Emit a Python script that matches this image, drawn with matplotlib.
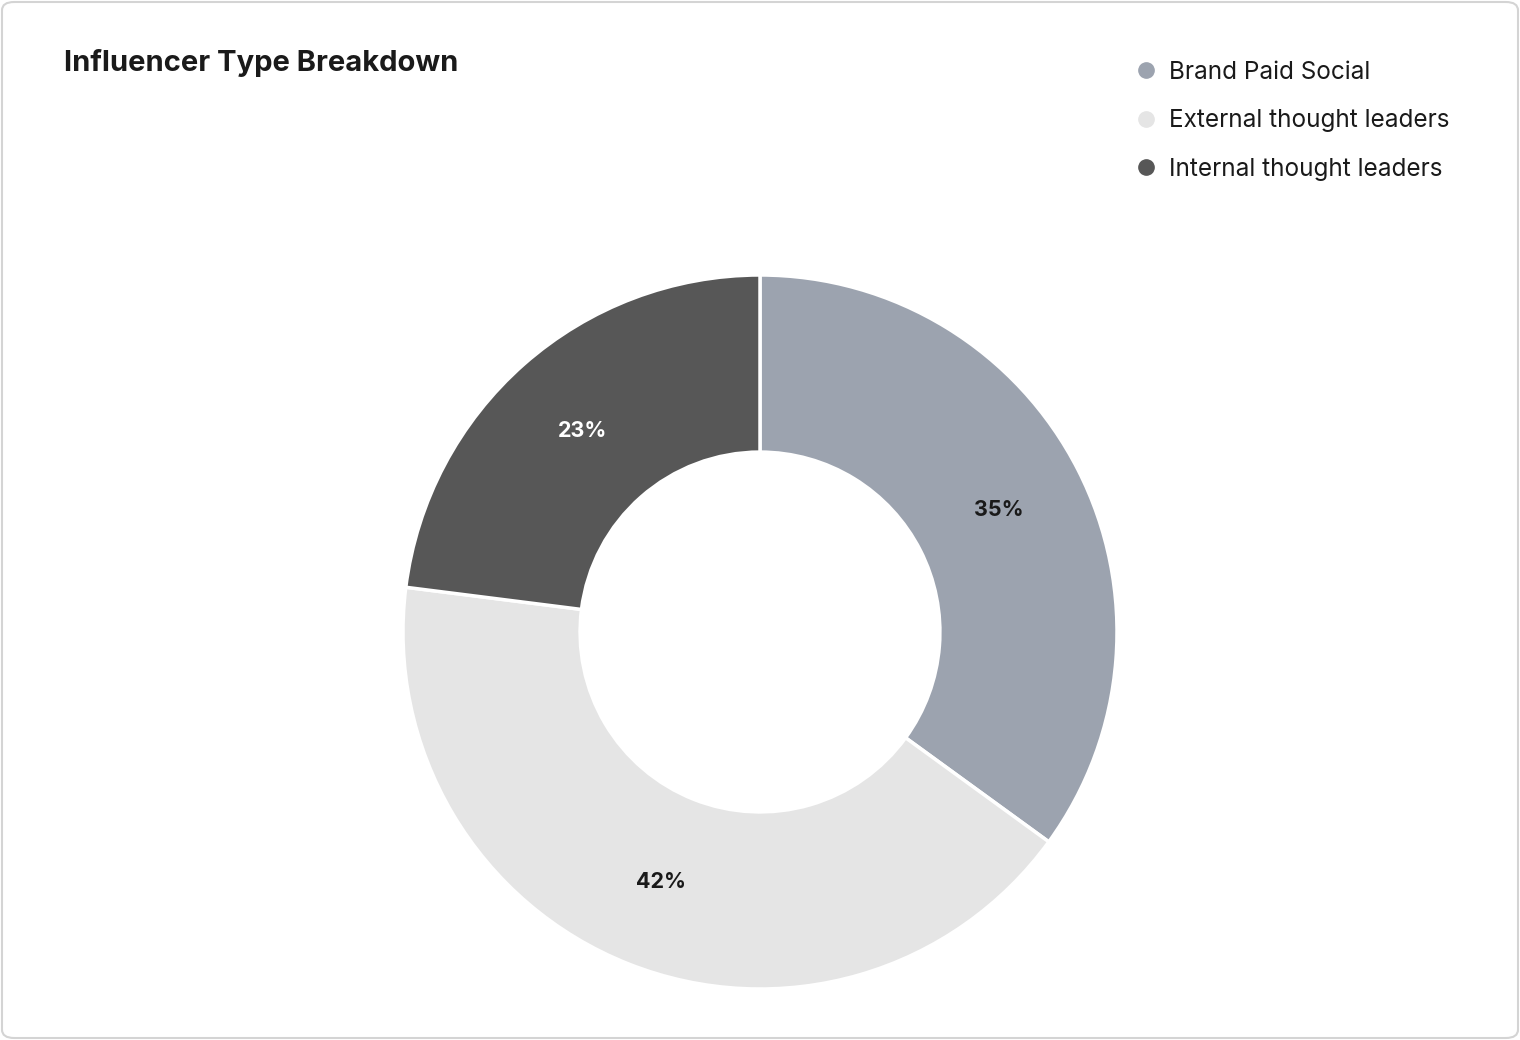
import numpy as np
import matplotlib.pyplot as plt
from matplotlib.patches import FancyBboxPatch
from matplotlib.lines import Line2D

labels = ["Brand Paid Social", "External thought leaders", "Internal thought leaders"]
values = [35, 42, 23]
colors = ["#9ca3af", "#e5e5e5", "#575757"]
text_colors = ["#1a1a1a", "#1a1a1a", "#ffffff"]

plt.rcParams['font.family'] = ['Inter', 'DejaVu Sans']

W, H = 1520, 1040
fig = plt.figure(figsize=(W / 100, H / 100), dpi=100)

# rounded card border, behind everything
card = FancyBboxPatch((2 / W, 2 / H), 1 - 4 / W, 1 - 4 / H,
                      boxstyle="round,pad=0,rounding_size=0.008",
                      transform=fig.transFigure, facecolor="white",
                      edgecolor="#d4d4d4", linewidth=1.5, zorder=-10)
fig.patches.append(card)

fig.text(64 / W, 1 - 63 / H, "Influencer Type Breakdown", fontsize=21,
         fontweight="bold", color="#1a1a1a", va="center", ha="left")

# donut: centre (760, 632), outer radius 357 px
cx, cy, r = 760, 632, 357
ax = fig.add_axes([(cx - r) / W, (H - cy - r) / H, 2 * r / W, 2 * r / H])
ax.set_zorder(5)
ax.patch.set_alpha(0)
wedges, texts = ax.pie(values, colors=colors, startangle=90, counterclock=False,
                       radius=1, wedgeprops=dict(width=0.496, edgecolor="white", linewidth=2.5))
ax.set_xlim(-1, 1)
ax.set_ylim(-1, 1)
ax.set_aspect("equal")
ax.axis("off")

start = 90.0
for v, tc in zip(values, text_colors):
    mid = start - v / 100 * 360 / 2
    rr = 0.752
    ax.text(rr * np.cos(np.radians(mid)), rr * np.sin(np.radians(mid)), f"{v}%",
            ha="center", va="center", fontsize=15.5, fontweight="bold", color=tc)
    start -= v / 100 * 360

handles = [Line2D([0], [0], marker="o", linestyle="", markersize=11,
                  markerfacecolor=c, markeredgecolor=c) for c in colors]
leg = fig.legend(handles, labels, loc="upper left", bbox_to_anchor=(1134 / W, 1 - 61 / H),
                 frameon=False, fontsize=17.5, handletextpad=0.42, labelspacing=1.04,
                 handlelength=1.0, borderaxespad=0, borderpad=0, labelcolor="#1a1a1a")
leg.set_zorder(6)

fig.savefig("out.png", dpi=100)
